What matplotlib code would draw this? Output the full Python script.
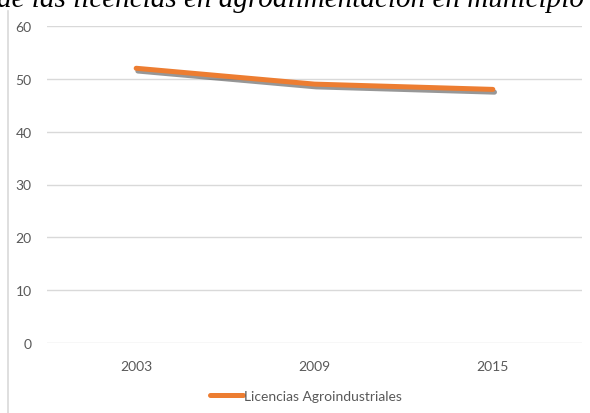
import matplotlib
matplotlib.use('Agg')
import matplotlib.pyplot as plt
import matplotlib.patheffects as pe
from matplotlib.lines import Line2D

# data
years = ['2003', '2009', '2015']
licencias = [52, 49, 48]
y_ticks = [0, 10, 20, 30, 40, 50, 60]
serie_label = 'Licencias Agroindustriales'
title_text = 'de las licencias en agroalimentación en municipio'

W, H = 590, 414
ORANGE = '#ED7D31'
GRID = '#D9D9D9'
TXT = '#595959'

plt.rcParams['font.family'] = ['Lato', 'DejaVu Sans']

fig = plt.figure(figsize=(W / 100, H / 100), dpi=100)

# document caption above the chart (clipped by the crop, as in the source)
fig.text(-3 / W, 1 - 7 / H, title_text, family='Liberation Serif', style='italic',
         fontsize=21, ha='left', va='baseline', color='black')

# chart frame border (left edge only visible)
fig.add_artist(Line2D([8 / W, 8 / W], [0, 1 - 12 / H], color=GRID, lw=1.2))

ax = fig.add_axes([47 / W, (H - 344) / H, (582 - 47) / W, (344 - 27) / H])
x = range(len(years))
ax.plot(x, licencias, color=ORANGE, lw=3.6, solid_capstyle='round', zorder=3,
        path_effects=[pe.SimpleLineShadow(offset=(1.2, -2.0), shadow_color='#303030', alpha=0.5),
                      pe.Normal()])
ax.set_xlim(-0.5, len(years) - 0.5)
ax.set_ylim(0, 60)
ax.set_yticks(y_ticks)
ax.set_xticks(list(x))
ax.set_xticklabels(years)
ax.grid(axis='y', color=GRID, lw=1.0)
ax.set_axisbelow(True)
for s in ax.spines.values():
    s.set_visible(False)
ax.tick_params(axis='both', length=0, colors=TXT, labelsize=10)
ax.tick_params(axis='y', pad=11)
ax.tick_params(axis='x', pad=12)

leg = ax.legend([Line2D([0], [0], color=ORANGE, lw=3.6, solid_capstyle='round')], [serie_label],
                loc='center', bbox_to_anchor=(306 / W, (H - 397) / H), bbox_transform=fig.transFigure,
                frameon=False, fontsize=10, handlelength=2.4, handletextpad=0.1, labelcolor=TXT)

fig.savefig('out.png', dpi=100)
